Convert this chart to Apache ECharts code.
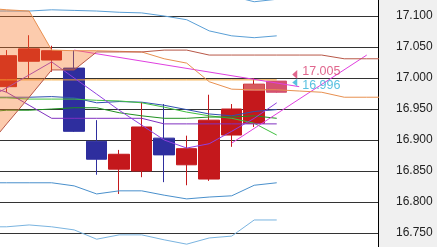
<!DOCTYPE html>
<html><head><meta charset="utf-8">
<script src="https://cdn.jsdelivr.net/npm/echarts@6/dist/echarts.min.js"></script>
<style>html,body{margin:0;padding:0;background:#f0f0f0}#c{width:437px;height:247px}</style>
</head><body><div id="c"></div>
<script>
// category slots (candle positions, incl. future slots)
const slots = ['0','1','2','3','4','5','6','7','8','9','10','11','12','13','14','15','16'];
// candles [open, close, low, high]
const candles = [
  [16.986, 17.036, 16.977, 17.045],
  [17.027, 17.047, 17.000, 17.069],
  [17.029, 17.044, 17.010, 17.052],
  [17.016, 16.914, 16.913, 17.045],
  [16.898, 16.869, 16.844, 16.932],
  [16.853, 16.877, 16.813, 16.884],
  [16.850, 16.921, 16.840, 16.961],
  [16.903, 16.876, 16.832, 16.958],
  [16.860, 16.886, 16.827, 16.907],
  [16.837, 16.932, 16.834, 16.973],
  [16.908, 16.950, 16.889, 16.958],
  [16.927, 16.990, 16.921, 17.000],
  [16.977, 16.995, 16.976, 16.995]
];
// lighter highlighted zone on candle 11 body top [slot, from, to]
const highlight = [[11, 16.979, 16.990]];
// indicator x positions (slot index)
const idx = [-1,0,1,2,3,4,5,6,7,8,9,10,11,12,13,14,15,16,17];
const spanA = [17.113,17.110,17.108,17.045,17.044,17.044,17.043,17.042,17.031,17.024,16.994,16.982,16.981,16.981,16.979,16.977,16.969,16.969,16.969];
const spanB = [16.882,16.926,16.969,17.013,17.013,17.042,17.042,17.042,17.045,17.045,17.037,17.037,17.037,17.037,17.037,17.037,17.031,17.031,17.031];
const kijun = [16.997,16.997,16.997,16.997,16.997,16.997,16.997,16.997,16.997,16.997,16.997,16.997,16.997,16.997,null,null,null,null,null];
const bbUp3 = [17.177,17.177,17.177,17.179,17.179,17.182,17.179,17.177,17.173,17.165,17.143,17.132,17.123,17.127,null,null,null,null,null];
const bbUp2 = [17.108,17.108,17.108,17.110,17.109,17.108,17.106,17.105,17.100,17.094,17.076,17.068,17.065,17.068,null,null,null,null,null];
const bbMid = [16.969,16.969,16.969,16.970,16.968,16.960,16.962,16.961,16.956,16.949,16.942,16.939,16.946,16.949,null,null,null,null,null];
const bbLo2 = [16.831,16.831,16.831,16.831,16.826,16.813,16.818,16.818,16.811,16.805,16.808,16.810,16.827,16.831,null,null,null,null,null];
const bbLo3 = [16.760,16.760,16.763,16.760,16.755,16.740,16.747,16.747,16.739,16.732,16.742,16.745,16.771,16.771,null,null,null,null,null];
const maGreen1 = [16.968,16.968,16.966,16.966,16.966,16.964,16.963,16.960,16.953,16.945,16.939,16.935,16.927,16.908,null,null,null,null,null];
const maGreen2 = [16.945,16.948,16.948,16.950,16.952,16.952,16.944,16.939,16.935,16.935,16.937,16.937,16.939,16.935,null,null,null,null,null];
const tenkan = [16.989,16.977,16.956,16.935,16.935,16.935,16.935,16.935,16.926,16.926,16.926,16.926,16.926,16.926,null,null,null,null,null];
const maViolet = [16.964,16.984,17.005,17.026,17.000,16.974,16.948,16.924,16.900,16.887,16.894,16.914,16.935,16.960,null,null,null,null,null];
const trendDown = [[3,17.045],[13,16.986]];
const trendUp = [[10,16.895],[16,17.037]];
const bid = 17.005, ask = 16.996;
const yTicks = {min:16.70, max:17.15, step:0.05};

function pts(arr){const o=[];arr.forEach((v,i)=>{if(v!==null)o.push([idx[i],v]);});return o;}
function line(data,color,w,z){return {type:'line',xAxisIndex:1,yAxisIndex:0,data:data,showSymbol:false,symbol:'none',silent:true,animation:false,z:z||3,lineStyle:{color:color,width:w||1}};}

const chart = echarts.init(document.getElementById('c'),null,{renderer:'canvas'});
const candleData = candles.map((c,i)=> i===12 ? {value:c,itemStyle:{color:'#d45070',borderColor:'#d45070'}} : c);
const lbl = {fontSize:12.5,fontFamily:'Liberation Sans, Arial, sans-serif'};
chart.setOption({
  animation:false,
  backgroundColor:'#f0f0f0',
  grid:{left:-4.6,right:59,top:-15,bottom:-17,outerBoundsMode:'none',containLabel:false,show:true,backgroundColor:'#ffffff',borderWidth:0},
  xAxis:[
    {type:'category',data:slots,show:false,boundaryGap:true},
    {type:'value',min:-0.5,max:16.5,show:false}
  ],
  yAxis:[{type:'value',position:'right',min:yTicks.min,max:yTicks.max,interval:yTicks.step,
    axisLine:{show:true,onZero:false,lineStyle:{color:'#000',width:1}},axisTick:{show:false},
    splitLine:{show:true,lineStyle:{color:'#333',width:1}},
    axisLabel:{margin:18,color:'#222',fontSize:12,fontFamily:"'Liberation Sans Narrow','Arial Narrow',sans-serif",formatter:v=>v.toFixed(3)}}],
  series:[
    {type:'candlestick',xAxisIndex:0,yAxisIndex:0,data:candleData,barWidth:21,z:2,
      itemStyle:{color:'#c4181c',color0:'#2e2e9e',borderColor:'#c4181c',borderColor0:'#2e2e9e',borderWidth:1}},
    {type:'custom',xAxisIndex:1,yAxisIndex:0,data:highlight,z:2.5,silent:true,
      renderItem:function(params,api){
        const a=api.coord([api.value(0),api.value(2)]), b=api.coord([api.value(0),api.value(1)]);
        return {type:'rect',shape:{x:a[0]-10.5,y:a[1],width:21,height:b[1]-a[1]},style:{fill:'#d85a5e'}};
      }},
    {type:'custom',xAxisIndex:1,yAxisIndex:0,data:[0],z:4,silent:true,
      renderItem:function(params,api){
        const top=[],bot=[];
        for(let i=0;i<=5;i++){top.push(api.coord([idx[i],spanA[i]]));bot.push(api.coord([idx[i],spanB[i]]));}
        return {type:'polygon',shape:{points:top.concat(bot.reverse())},style:{fill:'rgba(248,118,40,0.38)',stroke:'none'}};
      }},
    line(pts(bbUp3),'#5a9fd6'),
    line(pts(bbUp2),'#5a9fd6'),
    line(pts(bbLo2),'#4a90cc'),
    line(pts(bbLo3),'#7ab4e0'),
    line(pts(bbMid),'#3050b0'),
    line(pts(maGreen1),'#40c040'),
    line(pts(maGreen2),'#209020'),
    line(pts(tenkan),'#8030c0'),
    line(pts(kijun),'#f0a030'),
    line(pts(spanA),'#e89050',1,5),
    line(pts(spanB),'#b85848',1,5),
    line(pts(maViolet),'#9040e0'),
    line(trendDown,'#e040e0'),
    line(trendUp,'#e040e0'),
    {type:'scatter',xAxisIndex:1,yAxisIndex:0,z:6,silent:true,
      data:[{value:[12.8,bid],symbol:'triangle',symbolRotate:90,symbolSize:[9,5],symbolOffset:[0,-0.5],itemStyle:{color:'#d84070'},
             label:Object.assign({show:true,position:'right',distance:5,offset:[0,-2.5],formatter:bid.toFixed(3),color:'#d84070'},lbl)},
            {value:[12.8,ask],symbol:'triangle',symbolRotate:90,symbolSize:[8,5],symbolOffset:[0,2],itemStyle:{color:'#30b0d8'},
             label:Object.assign({show:true,position:'right',distance:5,offset:[0,3.5],formatter:ask.toFixed(3),color:'#30b0d8'},lbl)}]}
  ]
});
</script></body></html>
